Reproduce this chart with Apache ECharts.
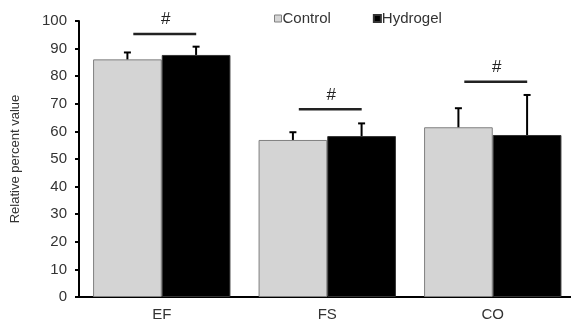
<!DOCTYPE html>
<html><head><meta charset="utf-8">
<script src="https://cdn.jsdelivr.net/npm/echarts@6/dist/echarts.min.js"></script>
<style>html,body{margin:0;padding:0;background:#fff;overflow:hidden}#c{width:576px;height:326px}</style>
</head><body><div id="c"></div>
<script>
const categories = ['EF', 'FS', 'CO'];
const controlValues = [86.1, 56.9, 61.5];
const controlErrors = [2.5, 2.8, 6.9];
const hydrogelValues = [87.7, 58.3, 58.7];
const hydrogelErrors = [3.0, 4.6, 14.5];
const sigLevels = [95.3, 68.0, 78.0];
const sigLabels = ['#', '#', '#'];
const yTicks = [0, 10, 20, 30, 40, 50, 60, 70, 80, 90, 100];

const CAT_GAP = 0.17;
const chart = echarts.init(document.getElementById('c'));

function errRender(sign, errs) {
  return function (params, api) {
    const i = api.value(0);
    const v = api.value(1);
    const e = errs[i];
    const band = api.size([1, 0])[0];
    const off = band * (1 - CAT_GAP) / 4 * sign;
    const p0 = api.coord([i, v]);
    const p1 = api.coord([i, v + e]);
    const x = p0[0] + off;
    const st = { stroke: '#000', lineWidth: 2 };
    return { type: 'group', children: [
      { type: 'line', shape: { x1: x, y1: p0[1], x2: x, y2: p1[1] }, style: st },
      { type: 'line', shape: { x1: x - 3.5, y1: p1[1], x2: x + 3.5, y2: p1[1] }, style: st }
    ]};
  };
}

chart.setOption({
  animation: false,
  grid: { left: 79, top: 21, bottom: 29, right: 0.5, containLabel: false },
  legend: {
    data: [
      { name: 'Control', icon: 'rect', itemStyle: { color: '#d6d6d6', borderColor: '#808080', borderWidth: 1 } },
      { name: 'Hydrogel', icon: 'rect' }
    ],
    left: 269, top: 6, itemWidth: 7, itemHeight: 7, itemGap: 42,
    textStyle: { fontFamily: 'Liberation Sans', fontSize: 15, color: '#333', padding: [0, 0, 0, -4] }
  },
  xAxis: {
    type: 'category', data: categories,
    axisLine: { lineStyle: { color: '#000', width: 2 } },
    axisTick: { show: false },
    axisLabel: { fontFamily: 'Liberation Sans', fontSize: 15, color: '#333', margin: 10 }
  },
  yAxis: {
    type: 'value', min: 0, max: 100, interval: 10,
    name: 'Relative percent value', nameLocation: 'middle', nameGap: 57,
    nameTextStyle: { fontFamily: 'Liberation Sans', fontSize: 13, color: '#333' },
    axisLine: { show: true, lineStyle: { color: '#000', width: 2 } },
    axisTick: { show: true, length: 4, lineStyle: { color: '#000', width: 2 } },
    axisLabel: { fontFamily: 'Liberation Sans', fontSize: 15, color: '#333', margin: 12,
      formatter: v => yTicks.includes(v) ? String(v) : '' },
    splitLine: { show: false }
  },
  series: [
    { name: 'Control', type: 'bar', data: controlValues, barGap: '0%', barCategoryGap: (CAT_GAP * 100) + '%',
      itemStyle: { color: '#d4d4d4', borderColor: '#808080', borderWidth: 1 } },
    { name: 'Hydrogel', type: 'bar', data: hydrogelValues,
      itemStyle: { color: '#000', borderColor: '#333', borderWidth: 1 } },
    { type: 'custom', data: controlValues.map((v, i) => [i, v]), renderItem: errRender(-1, controlErrors), z: 5 },
    { type: 'custom', data: hydrogelValues.map((v, i) => [i, v]), renderItem: errRender(1, hydrogelErrors), z: 5 },
    { type: 'custom', data: sigLevels.map((v, i) => [i, v]), z: 5,
      renderItem: function (params, api) {
        const i = api.value(0);
        const p = api.coord([i, api.value(1)]);
        const band = api.size([1, 0])[0];
        const hw = band * 0.19;
        const cx = p[0] + 3;
        return { type: 'group', children: [
          { type: 'line', shape: { x1: cx - hw, y1: p[1], x2: cx + hw, y2: p[1] },
            style: { stroke: '#222', lineWidth: 2.5 } },
          { type: 'text', x: cx + 1, y: p[1] - 6,
            style: { text: sigLabels[i], fill: '#222', font: '17px "Liberation Sans"', align: 'center', verticalAlign: 'bottom' } }
        ]};
      }
    }
  ]
});
</script></body></html>
